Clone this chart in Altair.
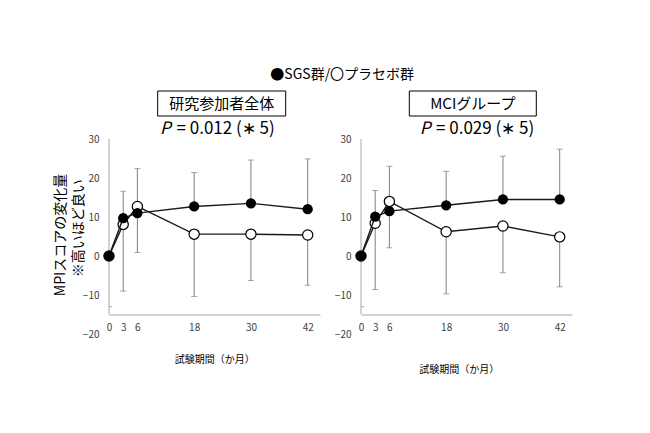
import altair as alt
import pandas as pd

FONT = "Noto Sans CJK JP"

months = [0, 3, 6, 18, 30, 42]
x_tick_values = [0, 3, 6, 18, 30, 42]
y_tick_values = [-20, -10, 0, 10, 20, 30]

# 研究参加者全体
all_sgs = [0, 9.7, 11.0, 12.7, 13.5, 12.0]
all_sgs_upper = [0, 16.6, 22.4, 21.4, 24.6, 24.9]
all_pla = [0, 8.1, 12.7, 5.6, 5.6, 5.4]
all_pla_lower = [0, -9.0, 0.9, -10.4, -6.3, -7.5]

# MCIグループ
mci_sgs = [0, 10.1, 11.5, 13.0, 14.5, 14.5]
mci_sgs_upper = [0, 16.8, 23.0, 21.7, 25.6, 27.4]
mci_pla = [0, 8.4, 14.0, 6.2, 7.7, 4.9]
mci_pla_lower = [0, -8.6, 2.1, -9.7, -4.3, -7.9]

legend_text = "●SGS群/〇プラセボ群"
panel_titles = ["研究参加者全体", "MCIグループ"]
p_texts = ["= 0.012 (∗ 5)", "= 0.029 (∗ 5)"]
y_title_lines = ["MPIスコアの変化量", "※高いほど良い"]
x_title = "試験期間（か月）"

W, H = 211, 195
AXIS_GRAY = "#a6a6a6"
LABEL_GRAY = "#404040"
ERR_GRAY = "#808080"


def make_panel(sgs, sgs_err, pla, pla_err, title, ptext, pos, label_pad, first):
    df = pd.DataFrame({
        "month": months * 2,
        "group": ["SGS"] * len(months) + ["PLA"] * len(months),
        "val": sgs + pla,
        "err": sgs_err + pla_err,
    })
    xs = alt.Scale(domain=[0, 44.6], nice=False, zero=False)
    ys = alt.Scale(domain=[-20, 30], nice=False, zero=False)
    xaxis = alt.Axis(values=x_tick_values, offset=-19.5, grid=False, ticks=False,
                     domainColor=AXIS_GRAY, domainWidth=1, labelColor=LABEL_GRAY,
                     labelFont=FONT, labelFontSize=10, labelPadding=8,
                     labelFlush=False, labelOverlap=False, title=None)
    yaxis = alt.Axis(values=y_tick_values, domain=False, ticks=False, grid=False,
                     labelColor=LABEL_GRAY, labelFont=FONT, labelFontSize=10,
                     labelPadding=label_pad, labelFlush=False, labelOverlap=False,
                     title=None)
    X = alt.X("month:Q", scale=xs, axis=xaxis)

    def Y(f):
        return alt.Y(f, scale=ys, axis=yaxis)

    base = alt.Chart(df)
    bars = base.transform_filter("datum.month > 0")
    ebar = bars.mark_rule(color=ERR_GRAY, strokeWidth=1).encode(x=X, y=Y("val:Q"), y2="err:Q")
    caps = bars.mark_tick(orient="horizontal", size=6, thickness=1, color=ERR_GRAY).encode(
        x=X, y=Y("err:Q"))
    pla_d = base.transform_filter("datum.group == 'PLA'")
    sgs_d = base.transform_filter("datum.group == 'SGS'")
    pla_line = pla_d.mark_line(color="#1a1a1a", strokeWidth=1.4).encode(x=X, y=Y("val:Q"))
    pla_pts = pla_d.mark_point(shape="circle", filled=True, fill="white", stroke="black",
                               strokeWidth=1.2, size=105, opacity=1).encode(x=X, y=Y("val:Q"))
    sgs_line = sgs_d.mark_line(color="#1a1a1a", strokeWidth=1.4).encode(x=X, y=Y("val:Q"))
    sgs_pts = sgs_d.mark_circle(color="black", size=105, opacity=1).encode(x=X, y=Y("val:Q"))

    adf = pd.DataFrame({"top": [30], "bottom": [-15], "minor": [-13]})
    a = alt.Chart(adf)
    yline = a.mark_rule(color=AXIS_GRAY, strokeWidth=1).encode(
        x=alt.value(0), y=Y("top:Q"), y2="bottom:Q")
    minor = a.mark_rule(color=AXIS_GRAY, strokeWidth=1).encode(
        x=alt.value(0), x2=alt.value(3), y=Y("minor:Q"))

    tdf = pd.DataFrame({"t": [title], "p": ["P"], "q": [ptext], "xt": [x_title]})
    t = alt.Chart(tdf)
    box = t.mark_rect(fill="white", stroke="black", strokeWidth=1).encode(
        x=alt.value(pos["bx1"]), x2=alt.value(pos["bx2"]), y=alt.value(-48), y2=alt.value(-23))
    box_text = t.mark_text(font=FONT, fontSize=15, color="black", align="center",
                           baseline="middle").encode(
        x=alt.value(pos["tx"]), y=alt.value(-35.5), text="t:N")
    p_it = t.mark_text(font=FONT, fontSize=17, fontStyle="italic", color="black",
                       align="center", baseline="middle").encode(
        x=alt.value(pos["px"]), y=alt.value(-10), text="p:N")
    p_rest = t.mark_text(font=FONT, fontSize=17, color="black", align="left",
                         baseline="middle").encode(
        x=alt.value(pos["qx"]), y=alt.value(-10), text="q:N")
    xt = t.mark_text(font=FONT, fontSize=10, color="black", align="center",
                     baseline="middle").encode(
        x=alt.value(pos["xtx"]), y=alt.value(pos["xty"]), text="xt:N")

    layers = [yline, minor, ebar, caps, pla_line, pla_pts, sgs_line, sgs_pts,
              box, box_text, p_it, p_rest, xt]

    if first:
        ldf = pd.DataFrame({"lg": [legend_text], "y1": [y_title_lines[0]], "y2t": [y_title_lines[1]]})
        l = alt.Chart(ldf)
        lg = l.mark_text(font=FONT, fontSize=14, color="black", align="center",
                         baseline="middle").encode(x=alt.value(233.2), y=alt.value(-64), text="lg:N")
        yt1 = l.mark_text(font=FONT, fontSize=14, color="black", align="center",
                          baseline="middle", angle=270).encode(
            x=alt.value(-48.5), y=alt.value(96), text="y1:N")
        yt2 = l.mark_text(font=FONT, fontSize=14, color="black", align="center",
                          baseline="middle", angle=270).encode(
            x=alt.value(-30.1), y=alt.value(89.3), text="y2t:N")
        layers += [lg, yt1, yt2]

    return alt.layer(*layers).properties(width=W, height=H)


left = make_panel(all_sgs, all_sgs_upper, all_pla, all_pla_lower,
                  panel_titles[0], p_texts[0],
                  dict(bx1=48.7, bx2=176.7, tx=112.7, px=56.4, qx=67.5, xtx=105.7, xty=221),
                  10, True)
right = make_panel(mci_sgs, mci_sgs_upper, mci_pla, mci_pla_lower,
                   panel_titles[1], p_texts[1],
                   dict(bx1=48.3, bx2=175.3, tx=111.8, px=64.0, qx=75.0, xtx=98.3, xty=231),
                   10, False)

chart = alt.hconcat(left, right, spacing=41, bounds="flush").properties(
    padding={"left": 45, "top": 60, "right": 5, "bottom": 5},
    background="white",
).configure_view(stroke=None)

chart.save("out.html", embed_options={"renderer": "svg", "actions": False})
